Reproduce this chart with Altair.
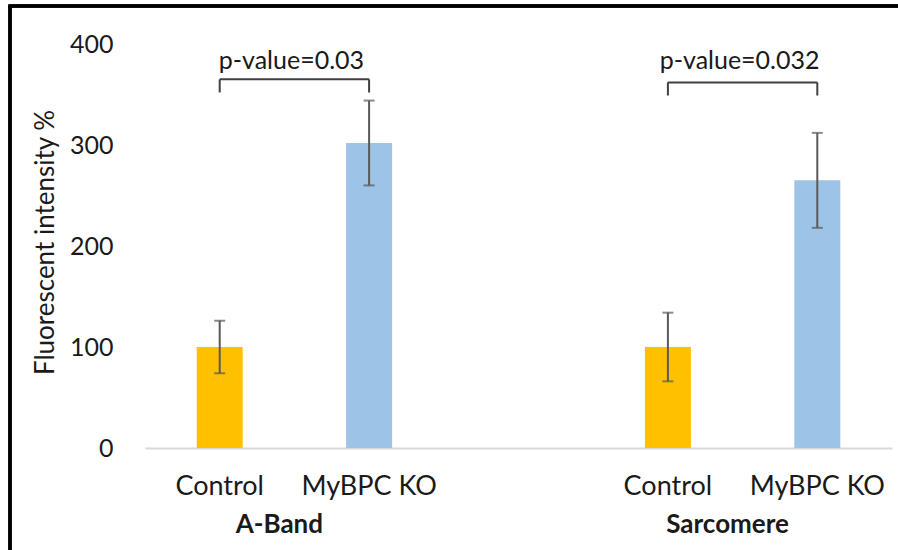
import altair as alt
import pandas as pd

# Bar values (mean fluorescent intensity, % of control) and error half-widths
groups = ["A-Band", "A-Band", "Sarcomere", "Sarcomere"]
conditions = ["Control", "MyBPC KO", "Control", "MyBPC KO"]
means = [100, 302, 100, 265]
errors = [26, 42, 34, 47]

# Significance annotations per group
p_groups = ["A-Band", "Sarcomere"]
p_labels = ["p-value=0.03", "p-value=0.032"]
bracket_top = [365, 362]
bracket_leg = 13
p_text_y = [383, 383]

y_ticks = [0, 100, 200, 300, 400]
colors = {"Control": "#FFC000", "MyBPC KO": "#9DC3E6"}

FONT = "Lato"
TEXT = "#1a1a1a"

keys = [f"{g}|{c}" for g, c in zip(groups, conditions)]
slot_domain = keys[:2] + ["gap"] + keys[2:]

bars = pd.DataFrame({
    "key": keys, "group": groups, "condition": conditions,
    "mean": means, "err": errors,
})
bars["lo"] = bars["mean"] - bars["err"]
bars["hi"] = bars["mean"] + bars["err"]

first_keys = [keys[groups.index(g)] for g in p_groups]
second_keys = [keys[len(groups) - 1 - groups[::-1].index(g)] for g in p_groups]
brackets = pd.DataFrame({
    "group": p_groups, "label": p_labels,
    "k1": first_keys, "k2": second_keys,
    "top": bracket_top, "text_y": p_text_y,
})
brackets["leg"] = brackets["top"] - bracket_leg
legs = pd.concat([
    brackets.assign(key=brackets["k1"]),
    brackets.assign(key=brackets["k2"]),
])

xscale = alt.Scale(domain=slot_domain, paddingInner=0, paddingOuter=0)
yscale = alt.Scale(domain=[0, 400], nice=False)

x_axis = alt.Axis(labels=False, ticks=False, title=None, domainColor="#D9D9D9",
                  domainWidth=2)
y_axis = alt.Axis(values=y_ticks, domain=False, ticks=False, grid=False,
                  labelPadding=32, labelFontSize=25, labelFont=FONT,
                  labelColor=TEXT, title="Fluorescent intensity %",
                  titleFont=FONT, titleFontSize=26, titleFontWeight="normal",
                  titleColor=TEXT, titleAngle=-90, titleX=-100, titleY=198,
                  titleAlign="center", titleBaseline="middle")

base = alt.Chart(bars)

bar = base.mark_bar(size=46).encode(
    x=alt.X("key:N", scale=xscale, axis=x_axis),
    y=alt.Y("mean:Q", scale=yscale, axis=y_axis),
    color=alt.Color("condition:N", scale=alt.Scale(domain=list(colors),
                    range=list(colors.values())), legend=None),
)

err_line = base.mark_rule(color="#595959", strokeWidth=2).encode(
    x=alt.X("key:N", scale=xscale), y=alt.Y("lo:Q", scale=yscale), y2="hi:Q",
)
err_lo = base.mark_tick(color="#595959", size=11, thickness=2).encode(
    x=alt.X("key:N", scale=xscale), y=alt.Y("lo:Q", scale=yscale),
)
err_hi = base.mark_tick(color="#595959", size=11, thickness=2).encode(
    x=alt.X("key:N", scale=xscale), y=alt.Y("hi:Q", scale=yscale),
)

cat_labels = base.mark_text(font=FONT, fontSize=27, color=TEXT,
                            baseline="middle").encode(
    x=alt.X("key:N", scale=xscale), y=alt.value(443), text="condition:N",
)
group_labels = alt.Chart(brackets).mark_text(
    font=FONT, fontSize=26, fontWeight="bold", color=TEXT, baseline="middle",
    dx=-15,
).encode(
    x=alt.X("k2:N", scale=xscale, bandPosition=0), y=alt.value(481),
    text="group:N",
)

bracket_h = alt.Chart(brackets).mark_rule(color="#404040", strokeWidth=2).encode(
    x=alt.X("k1:N", scale=xscale), x2="k2:N",
    y=alt.Y("top:Q", scale=yscale),
)
bracket_v = alt.Chart(legs).mark_rule(color="#404040", strokeWidth=2).encode(
    x=alt.X("key:N", scale=xscale),
    y=alt.Y("top:Q", scale=yscale), y2="leg:Q",
)
p_text = alt.Chart(brackets).mark_text(
    font=FONT, fontSize=25, color=TEXT, baseline="middle", dx=-3,
).encode(
    x=alt.X("k2:N", scale=xscale, bandPosition=0),
    y=alt.Y("text_y:Q", scale=yscale), text="label:N",
)

# Outer frame along the left and top edges of the figure
frame_left = alt.Chart(bars).mark_rule(color="black", strokeWidth=3).encode(
    x=alt.value(-135), y=alt.value(-38), y2=alt.value(520),
)
frame_top = alt.Chart(bars).mark_rule(color="black", strokeWidth=3).encode(
    x=alt.value(-136.5), x2=alt.value(760), y=alt.value(-38),
)

chart = alt.layer(
    bar, err_line, err_lo, err_hi, bracket_h, bracket_v, p_text,
    cat_labels, group_labels, frame_left, frame_top,
).properties(
    width=747, height=404,
    padding={"left": 145, "top": 44, "right": 6, "bottom": 102},
    autosize=alt.AutoSizeParams(type="none"),
    background="white",
).configure_view(stroke=None)

chart.save("out.html", embed_options={"renderer": "svg", "actions": False})
